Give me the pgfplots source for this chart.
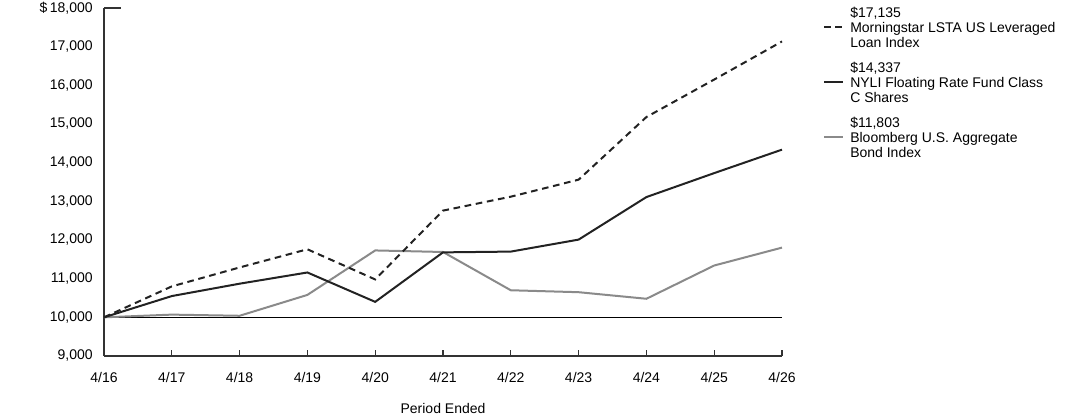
\documentclass[border=0pt]{standalone}
\usepackage{pgfplots}
\pgfplotsset{compat=1.18}
\usepackage{fontspec}
\setmainfont{Liberation Sans}
\definecolor{dk}{HTML}{222222}
\definecolor{gr}{HTML}{8A8A8A}
\definecolor{ax}{HTML}{333333}
\begin{document}
\begin{tikzpicture}
\path[use as bounding box] (0,0) rectangle (819pt,312.75pt);
\begin{axis}[
  at={(78pt,45.75pt)}, anchor=south west,
  scale only axis, width=508.5pt, height=261pt,
  xmin=0, xmax=10, ymin=9000, ymax=18000,
  axis x line*=bottom, axis y line*=left,
  axis line style={ax, line width=0.8pt, -},
  xtick={0,...,10},
  xticklabels={4/16,4/17,4/18,4/19,4/20,4/21,4/22,4/23,4/24,4/25,4/26},
  ytick={9000,10000,...,18000},
  yticklabels={{9,000},{10,000},{11,000},{12,000},{13,000},{14,000},{15,000},{16,000},{17,000},{\$\,18,000}},
  tick label style={font=\fontsize{10.5pt}{12pt}\selectfont, text=black},
  ytick style={draw=none},
  xtick style={draw=ax, line width=0.8pt},
  tick align=inside, major tick length=4.5pt,
  xticklabel style={yshift=-9pt},
  yticklabel style={xshift=-5pt, inner ysep=0pt},
  clip=false,
]
\draw[black, line width=0.8pt] (axis cs:0,10000) -- (axis cs:10,10000);
\draw[ax, line width=0.8pt] (axis cs:0,18000) -- (axis cs:0.25,18000);
\addplot[gr, line width=1.5pt] coordinates {
 (0,10000) (1,10070) (2,10040) (3,10580) (4,11730) (5,11690) (6,10700) (7,10650) (8,10480) (9,11340) (10,11803)};
\addplot[dk, line width=1.5pt] coordinates {
 (0,10000) (1,10550) (2,10870) (3,11160) (4,10400) (5,11680) (6,11700) (7,12010) (8,13110) (9,13730) (10,14337)};
\addplot[dk, line width=1.5pt, dash pattern=on 5pt off 3.5pt] coordinates {
 (0,10000) (1,10800) (2,11290) (3,11760) (4,10980) (5,12760) (6,13120) (7,13560) (8,15180) (9,16150) (10,17135)};
\end{axis}
\node[font=\fontsize{10.5pt}{12pt}\selectfont] at (332.25pt,6.75pt) {Period Ended};
\begin{scope}[every node/.style={font=\fontsize{10.5pt}{11.25pt}\selectfont, align=left, anchor=west, inner sep=0pt}]
\draw[dk, line width=1.5pt, dash pattern=on 5pt off 3.5pt] (618pt,292.5pt) -- (632.25pt,292.5pt);
\node at (637.5pt,292.5pt) {\$17,135\\Morningstar LSTA US Leveraged\\Loan Index};
\draw[dk, line width=1.5pt] (618pt,251.25pt) -- (632.25pt,251.25pt);
\node at (637.5pt,251.25pt) {\$14,337\\NYLI Floating Rate Fund Class\\C Shares};
\draw[gr, line width=1.5pt] (618pt,210pt) -- (632.25pt,210pt);
\node at (637.5pt,210pt) {\$11,803\\Bloomberg U.S. Aggregate\\Bond Index};
\end{scope}
\end{tikzpicture}
\end{document}
